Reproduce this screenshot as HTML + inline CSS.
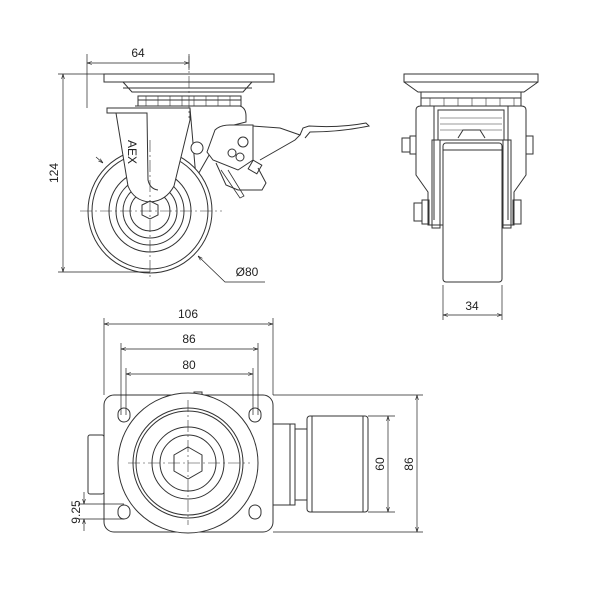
<!DOCTYPE html>
<html><head><meta charset="utf-8"><style>
html,body{margin:0;padding:0;background:#fff;width:600px;height:600px;overflow:hidden}
svg{display:block}
text{font-family:"Liberation Sans",sans-serif;font-size:12px;fill:#222}
</style></head><body>
<svg width="600" height="600" viewBox="0 0 600 600" xmlns="http://www.w3.org/2000/svg">
<defs>
<marker id="a" viewBox="0 0 10 10" refX="10" refY="5" markerWidth="7" markerHeight="7" orient="auto-start-reverse"><path d="M0,2 L10,5 L0,8" fill="none" stroke="#222" stroke-width="1.2"/></marker>
</defs>
<g fill="none" stroke="#333" stroke-width="1">
<!-- ===== SIDE VIEW ===== -->
<rect x="104" y="74" width="170" height="8" fill="#fff"/>
<path d="M123,82 L132,92 L243,92 L252,82"/>
<line x1="123" y1="88" x2="252" y2="88"/>
<rect x="138" y="96" width="103" height="10"/>
<line x1="138" y1="100" x2="241" y2="100"/>
<path d="M146,96v10M158,96v10M170,96v10M182,96v10M194,96v10M206,96v10M218,96v10M230,96v10" stroke-width="0.6"/>
<!-- body -->
<path d="M135,106 L240,106 Q246,108 246,116 L246,122 L230,126 Q220,132 212,150 L196,178 L190,108"/>
<!-- wheel -->
<circle cx="150" cy="211" r="62" fill="#fff"/>
<circle cx="150" cy="211" r="58"/>
<circle cx="150" cy="211" r="41"/>
<circle cx="150" cy="211" r="34"/>
<circle cx="150" cy="211" r="27"/>
<circle cx="150" cy="211" r="20"/>
<!-- fork leg -->
<path d="M107,108 L190,108 L190,120 L174,186 Q166,201 150,202 Q134,201 128,186 L116,113 L107,113 Z" fill="#fff"/>
<path d="M116,113 L147,113 L148,180 Q150,189 158,190"/>
<polygon points="142,205 150,201 158,205 158,215 150,219 142,215" fill="#fff"/>
<text x="128" y="140" font-size="9" transform="rotate(90 128 140)" stroke="none">AEX</text>
<!-- brake mechanism -->
<circle cx="197" cy="148" r="6" fill="#fff"/>
<path d="M207,152 L215,130 Q220,125 230,125 L253,125 L253,160 L238,170 L213,160 Z" fill="#fff"/>
<circle cx="243" cy="142" r="5"/>
<circle cx="232" cy="153" r="4"/>
<circle cx="240" cy="157" r="4"/>
<path d="M253,126 L280,128 L300,135 L295,140 L260,160"/>
<path d="M300,135 L303,128 L309,126 Q340,128 366,123 L369,126 Q340,132 310,132 L305,138"/>
<path d="M216,163 L226,185 L238,190 L262,190 L266,183 L258,168"/>
<path d="M221,170 L240,198 L244,196 L228,170" stroke-width="0.8"/>
<rect x="250" y="162" width="10" height="10" transform="rotate(30 255 167)"/>
<g stroke-width="0.6" stroke-dasharray="12,3,2,3">
<line x1="189" y1="56" x2="189" y2="118"/>
<line x1="150" y1="140" x2="150" y2="280"/>
<line x1="80" y1="211" x2="222" y2="211"/>
</g>
<!-- ===== FRONT VIEW ===== -->
<rect x="404" y="74" width="134" height="8" fill="#fff"/>
<path d="M404,82 L418,92 L524,92 L538,82"/>
<rect x="421" y="92" width="100" height="14"/>
<line x1="421" y1="98" x2="521" y2="98"/>
<path d="M430,98v8M444,98v8M458,98v8M472,98v8M486,98v8M500,98v8M514,98v8" stroke-width="0.6"/>
<path d="M416,110 Q416,106 421,106 L521,106 Q526,106 526,110 L526,175 L514,192 L514,225 L428,225 L428,192 L416,175 Z" fill="#fff"/>
<path d="M434,106 L434,220 M508,106 L508,220"/>
<path d="M438,110 L504,110 L504,140 L438,140 Z"/>
<path d="M440,118 L502,118 M440,124 L502,124 M440,130 L502,130" stroke-width="0.6"/>
<path d="M458,138 L463,130 L480,130 L485,138"/>
<rect x="443" y="143" width="59" height="139" rx="3" fill="#fff"/>
<line x1="443" y1="150" x2="502" y2="150"/>
<rect x="402" y="138" width="8" height="14"/>
<rect x="410" y="136" width="6" height="18"/>
<rect x="526" y="136" width="7" height="18"/>
<rect x="414" y="203" width="8" height="18"/>
<rect x="422" y="200" width="7" height="24"/>
<rect x="513" y="200" width="8" height="24"/>
<rect x="432" y="140" width="8" height="88"/>
<rect x="503" y="140" width="8" height="88"/>
<!-- ===== TOP VIEW ===== -->
<rect x="88" y="435" width="16" height="59" rx="2"/>
<rect x="104" y="395" width="169" height="137" rx="10" fill="#fff"/>
<rect x="273" y="424" width="22" height="81"/>
<line x1="290" y1="424" x2="290" y2="505"/>
<rect x="295" y="429" width="12" height="71"/>
<rect x="307" y="416" width="61" height="96" rx="3" fill="#fff"/>
<line x1="312" y1="416" x2="312" y2="512"/>
<line x1="363" y1="416" x2="363" y2="512"/>
<rect x="118" y="408" width="12" height="14" rx="6"/>
<rect x="249" y="408" width="12" height="14" rx="6"/>
<rect x="118" y="505" width="12" height="14" rx="6"/>
<rect x="249" y="505" width="12" height="14" rx="6"/>
<rect x="194" y="392" width="8" height="3"/>
<circle cx="188" cy="463" r="70" fill="#fff"/>
<circle cx="188" cy="463" r="55"/>
<circle cx="188" cy="463" r="52"/>
<circle cx="188" cy="463" r="36"/>
<circle cx="188" cy="463" r="28"/>
<polygon points="188,447 202,455 202,471 188,479 174,471 174,455"/>
<g stroke-width="0.6" stroke-dasharray="12,3,2,3">
<line x1="188" y1="400" x2="188" y2="525"/>
<line x1="128" y1="463" x2="250" y2="463"/>
</g>
</g>
<!-- ===== DIMENSIONS ===== -->
<g stroke="#222" stroke-width="0.7" fill="none">
<line x1="87" y1="54" x2="87" y2="108"/><line x1="189" y1="54" x2="189" y2="70"/>
<line x1="87" y1="63" x2="189" y2="63" marker-start="url(#a)" marker-end="url(#a)"/>
<line x1="58" y1="74" x2="104" y2="74"/><line x1="58" y1="272" x2="150" y2="272"/>
<line x1="63" y1="74" x2="63" y2="272" marker-start="url(#a)" marker-end="url(#a)"/>
<path d="M96,157 L103,163" marker-end="url(#a)"/>
<path d="M265,282 L225,282 L198,256" marker-end="url(#a)"/>
<line x1="443" y1="285" x2="443" y2="320"/><line x1="502" y1="285" x2="502" y2="320"/>
<line x1="443" y1="315" x2="502" y2="315" marker-start="url(#a)" marker-end="url(#a)"/>
<line x1="104" y1="318" x2="104" y2="395"/><line x1="273" y1="318" x2="273" y2="395"/>
<line x1="104" y1="324" x2="273" y2="324" marker-start="url(#a)" marker-end="url(#a)"/>
<line x1="121" y1="343" x2="121" y2="415"/><line x1="258" y1="343" x2="258" y2="415"/>
<line x1="121" y1="349" x2="258" y2="349" marker-start="url(#a)" marker-end="url(#a)"/>
<line x1="126" y1="368" x2="126" y2="415"/><line x1="253" y1="368" x2="253" y2="415"/>
<line x1="126" y1="374" x2="253" y2="374" marker-start="url(#a)" marker-end="url(#a)"/>
<line x1="368" y1="416" x2="395" y2="416"/><line x1="368" y1="512" x2="395" y2="512"/>
<line x1="388" y1="416" x2="388" y2="512" marker-start="url(#a)" marker-end="url(#a)"/>
<line x1="273" y1="395" x2="423" y2="395"/><line x1="273" y1="532" x2="423" y2="532"/>
<line x1="417" y1="395" x2="417" y2="532" marker-start="url(#a)" marker-end="url(#a)"/>
<line x1="78" y1="504" x2="124" y2="504"/><line x1="78" y1="519" x2="124" y2="519"/>
<line x1="84" y1="492" x2="84" y2="504" marker-end="url(#a)"/>
<line x1="84" y1="531" x2="84" y2="519" marker-end="url(#a)"/>
</g>
<g stroke="none">
<text x="138" y="57" text-anchor="middle">64</text>
<text x="58" y="173" text-anchor="middle" transform="rotate(-90 58 173)">124</text>
<text x="247" y="276" text-anchor="middle">Ø80</text>
<text x="472" y="310" text-anchor="middle">34</text>
<text x="188" y="318" text-anchor="middle">106</text>
<text x="189" y="343" text-anchor="middle">86</text>
<text x="189" y="369" text-anchor="middle">80</text>
<text x="384" y="464" text-anchor="middle" transform="rotate(-90 384 464)">60</text>
<text x="413" y="464" text-anchor="middle" transform="rotate(-90 413 464)">86</text>
<text x="80" y="512" text-anchor="middle" transform="rotate(-90 80 512)">9.25</text>
</g>
</svg>
</body></html>
